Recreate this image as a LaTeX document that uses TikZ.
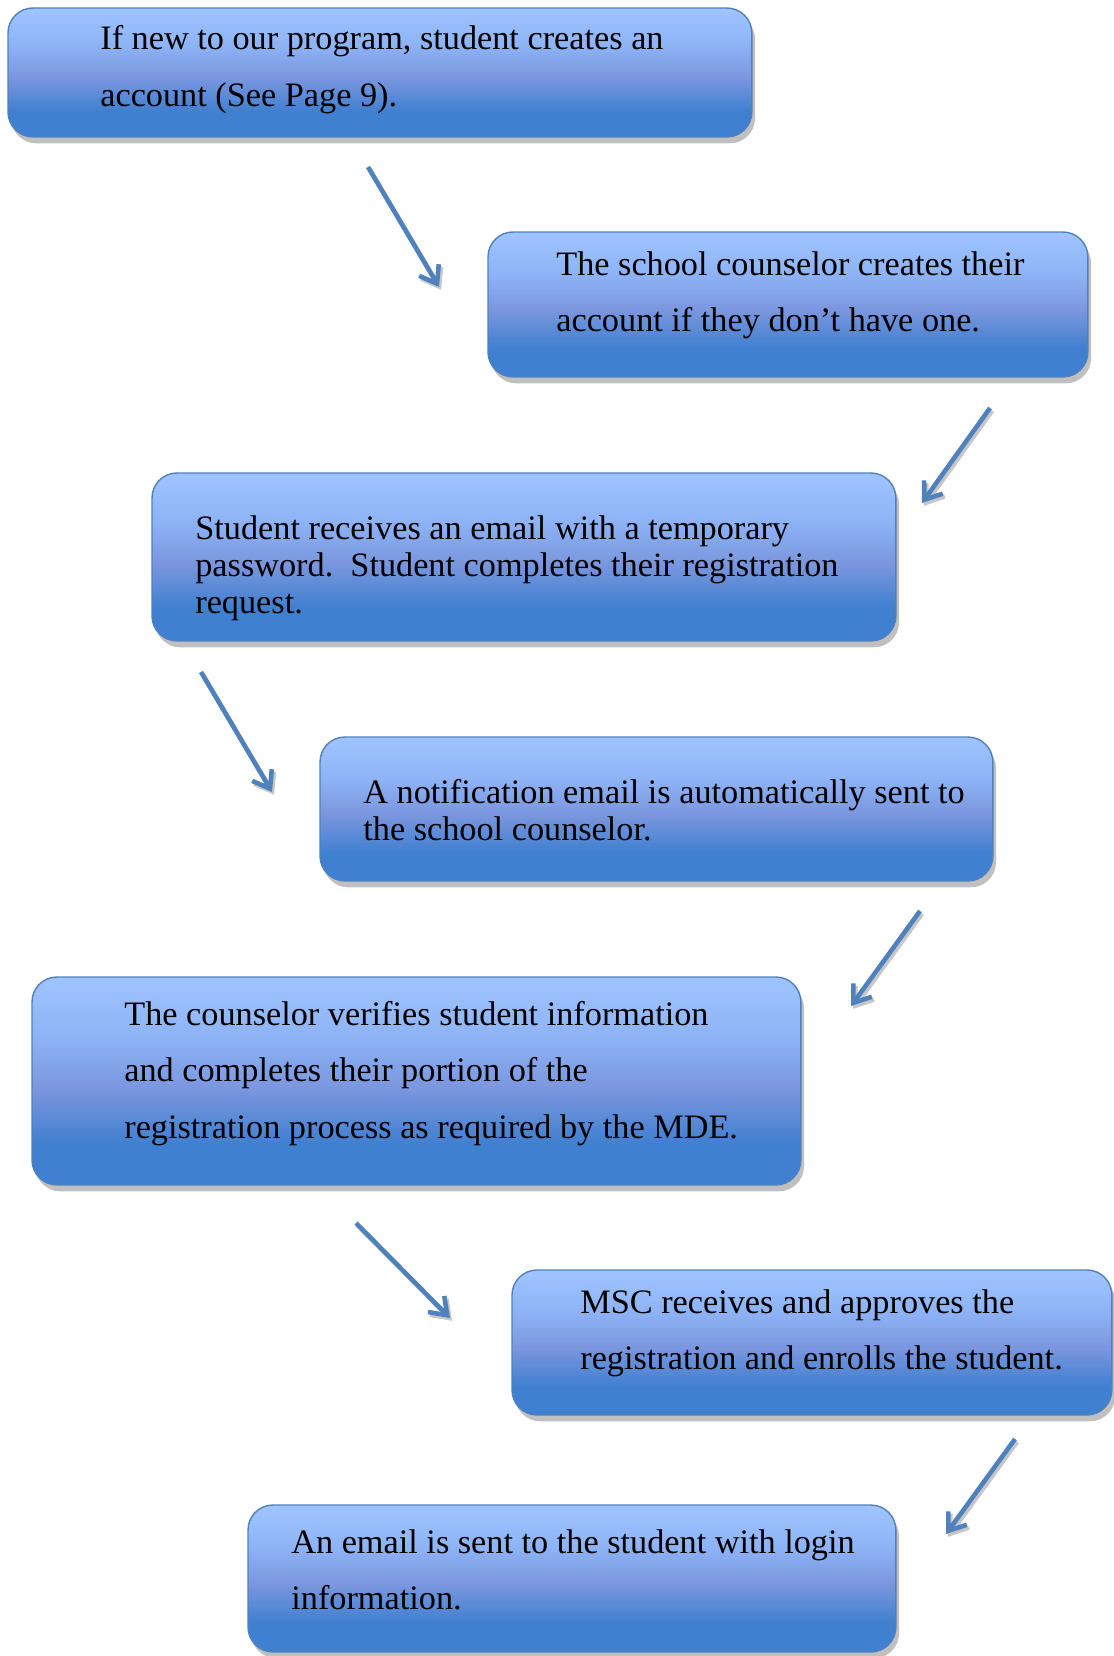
\documentclass[tikz,border=0pt]{standalone}
\usepackage{fontspec}
\setmainfont{Liberation Serif}
\usetikzlibrary{arrows.meta,shadows}

\definecolor{bluedark}{RGB}{64,128,208}
\definecolor{bluemid}{RGB}{122,150,222}
\definecolor{blueupper}{RGB}{142,180,246}
\definecolor{bluelight}{RGB}{160,196,255}
\definecolor{blueline}{RGB}{79,129,189}
\pgfdeclareverticalshading{boxshade}{100bp}{color(0bp)=(bluedark); color(35bp)=(bluedark); color(48bp)=(bluemid); color(61bp)=(blueupper); color(75bp)=(bluelight); color(100bp)=(bluelight)}

\tikzset{
  stepbox/.style={draw=blueline, line width=0.8pt, rounded corners=0.5cm,
    shading=boxshade, inner sep=0pt, outer sep=0pt,
    drop shadow={shadow xshift=1.8pt, shadow yshift=-3.6pt, fill=black!45, opacity=.55}},
  steptext/.style={anchor=base west, inner sep=0pt, align=flush left, text width=16cm,
    font=\fontsize{19.5}{32.4}\selectfont},
  steptextsingle/.style={steptext, font=\fontsize{19.5}{21.3}\selectfont},
  flowarrow/.style={draw=blueline, line width=2.6pt,
    -{Straight Barb[length=9pt,width=13pt,line width=2.6pt]},
    preaction={draw=black!22, line width=2.6pt,
      transform canvas={shift={(1.2pt,-1.6pt)}}}}
}

\begin{document}
\begin{tikzpicture}[x=0.02cm, y=-0.02cm]
  \useasboundingbox (0,0) rectangle (1114,1656);

  % boxes
  \node[stepbox, anchor=north west, minimum width=14.88cm, minimum height=2.58cm] (b1) at (8,8) {};
  \node[stepbox, anchor=north west, minimum width=12cm, minimum height=2.9cm] (b2) at (488,232) {};
  \node[stepbox, anchor=north west, minimum width=14.88cm, minimum height=3.36cm] (b3) at (152,473) {};
  \node[stepbox, anchor=north west, minimum width=13.46cm, minimum height=2.88cm] (b4) at (320,737) {};
  \node[stepbox, anchor=north west, minimum width=15.38cm, minimum height=4.16cm] (b5) at (32,977) {};
  \node[stepbox, anchor=north west, minimum width=12cm, minimum height=2.9cm] (b6) at (512,1270) {};
  \node[stepbox, anchor=north west, minimum width=12.96cm, minimum height=2.94cm] (b7) at (248,1505) {};

  % texts
  \node[steptext] (t1) at (100,50) {If new to our program, student creates an\\account (See Page 9).};
  \node[steptext] (t2) at (556,275) {The school counselor creates their\\account if they don’t have one.};
  \node[steptextsingle] (t3) at (195,539) {Student receives an email with a temporary\\password.\ \ Student completes their registration\\request.};
  \node[steptextsingle] (t4) at (363,803) {A notification email is automatically sent to\\the school counselor.};
  \node[steptext] (t5) at (124,1025) {The counselor verifies student information\\and completes their portion of the\\registration process as required by the MDE.};
  \node[steptext] (t6) at (580,1313) {MSC receives and approves the\\registration and enrolls the student.};
  \node[steptext] (t7) at (291,1553) {An email is sent to the student with login\\information.};

  % arrows
  \coordinate (a1s) at (368,167);  \coordinate (a1e) at (439,287);
  \coordinate (a2s) at (990,408);  \coordinate (a2e) at (922,503);
  \coordinate (a3s) at (201,672);  \coordinate (a3e) at (272,792);
  \coordinate (a4s) at (920,911);  \coordinate (a4e) at (851,1006);
  \coordinate (a5s) at (356,1223); \coordinate (a5e) at (450,1318);
  \coordinate (a6s) at (1015,1439); \coordinate (a6e) at (946,1534);
  \draw[flowarrow] (a1s) -- (a1e);
  \draw[flowarrow] (a2s) -- (a2e);
  \draw[flowarrow] (a3s) -- (a3e);
  \draw[flowarrow] (a4s) -- (a4e);
  \draw[flowarrow] (a5s) -- (a5e);
  \draw[flowarrow] (a6s) -- (a6e);
\end{tikzpicture}
\end{document}
